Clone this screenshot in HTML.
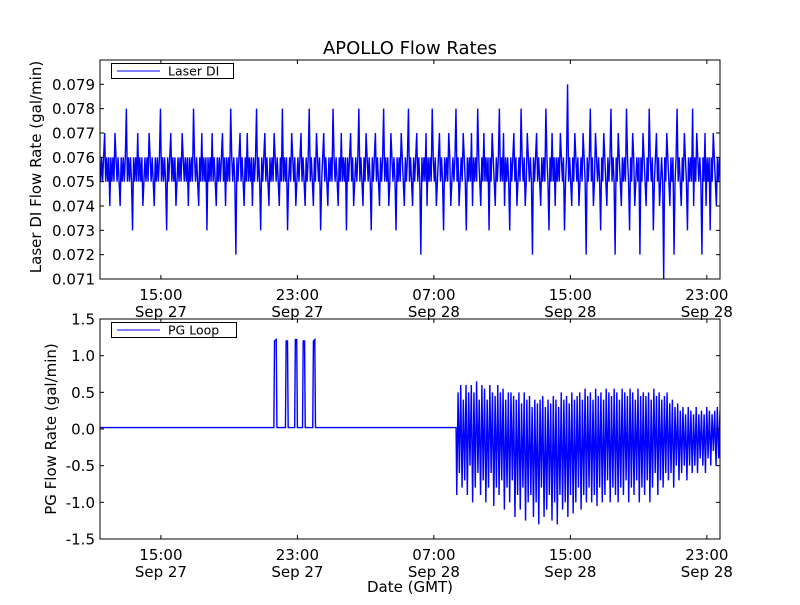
<!DOCTYPE html>
<html><head><meta charset="utf-8"><style>
body{margin:0;background:#fff}
svg text{font-family:"DejaVu Sans","Liberation Sans",sans-serif;fill:#000}
</style></head><body>
<svg id="chart" width="800" height="600" viewBox="0 0 800 600" xmlns="http://www.w3.org/2000/svg">
<rect width="800" height="600" fill="#fff"/>
<text x="410" y="54" font-size="18" text-anchor="middle">APOLLO Flow Rates</text>
<g id="top"></g>
<g id="bot"></g>
<text transform="translate(41,167) rotate(-90)" font-size="15" text-anchor="middle">Laser DI Flow Rate (gal/min)</text>
<text transform="translate(56,429) rotate(-90)" font-size="15" text-anchor="middle">PG Flow Rate (gal/min)</text>
<text x="410" y="592" font-size="15" text-anchor="middle">Date (GMT)</text>
</svg>
<script>
const xTickHours=[15,23,31,39,47];
const xTickTimes=["15:00","23:00","07:00","15:00","23:00"];
const xTickDates=["Sep 27","Sep 27","Sep 28","Sep 28","Sep 28"];
const upperYTicks=[0.071,0.072,0.073,0.074,0.075,0.076,0.077,0.078,0.079];
const lowerYTicks=[-1.5,-1.0,-0.5,0.0,0.5,1.0,1.5];
const laserMilli=[
5,6,5,6,7,5,6,5,6,4,6,5,6,5,7,6,5,6,5,4,
6,5,6,5,6,8,5,6,5,6,5,3,6,5,6,5,7,5,6,5,
6,4,5,6,5,6,5,7,6,5,6,5,4,6,5,6,5,6,8,5,
6,5,6,5,3,6,5,6,7,5,6,5,6,4,5,6,5,6,5,7,
6,5,6,5,6,4,6,5,6,5,8,6,5,6,5,4,6,5,7,5,
6,5,6,3,6,5,6,5,7,5,6,5,4,6,5,6,5,6,7,5,
6,4,6,5,6,5,8,6,5,6,5,2,6,5,6,7,5,6,5,4,
6,5,7,5,6,5,6,4,6,5,6,8,5,6,5,3,6,5,6,7,
5,6,5,4,6,5,6,5,7,6,5,6,5,4,6,5,8,5,6,5,
6,3,5,6,5,7,6,5,6,4,5,6,5,6,7,5,6,5,4,6,
5,6,8,5,6,5,4,6,5,7,6,5,6,3,5,6,7,5,6,5,
4,6,5,6,5,8,6,5,6,5,4,6,5,7,5,6,5,6,3,6,
5,6,7,5,6,4,5,6,5,6,8,5,6,5,4,6,5,7,6,5,
6,5,3,6,5,6,7,5,6,5,4,6,5,6,8,5,6,5,6,4,
5,7,6,5,6,5,3,6,5,6,5,7,6,5,4,6,5,6,8,5,
6,5,4,6,5,6,7,5,6,5,2,6,5,6,5,7,4,6,5,6,
5,8,6,5,6,4,5,6,7,5,6,5,3,6,5,6,5,7,6,4,
5,6,5,6,8,5,6,4,5,6,5,7,6,5,3,6,5,6,5,7,
4,6,5,6,5,8,6,5,4,6,5,7,5,6,5,6,3,6,5,7,
6,5,4,6,5,6,8,5,6,5,7,4,6,5,6,5,3,6,5,6,
7,5,6,4,5,6,5,8,6,5,6,4,5,7,6,5,6,5,2,6,
5,6,7,5,6,5,4,6,5,6,5,8,6,5,3,6,5,7,5,6,
4,6,5,6,5,7,6,5,6,3,5,6,9,5,6,5,4,6,5,7,
6,5,6,4,5,6,5,7,6,5,2,6,5,6,8,5,6,4,5,7,
6,5,6,5,3,6,5,7,6,5,4,6,5,6,8,5,6,5,2,6,
5,7,6,5,4,6,5,6,5,8,6,5,3,6,5,7,6,4,5,6,
5,6,2,6,5,7,6,5,4,6,5,8,6,5,6,3,5,6,7,5,
6,4,5,6,5,1,6,5,7,6,5,4,6,5,6,2,5,6,8,5,
6,5,4,6,5,7,6,5,3,6,5,6,5,8,4,6,5,7,6,5,
6,5,2,6,5,7,4,6,5,6,3,6,5,7,6,5,4,6,5,6];
const pgQuietHours=[11.43,21.62,21.66,21.76,21.80,22.30,22.34,22.42,22.46,22.84,22.88,22.96,23.00,23.30,23.34,23.42,23.46,23.90,23.94,24.02,24.06,32.30];
const pgQuietValues=[0.02,0.02,1.2,1.22,0.02,0.02,1.2,1.2,0.02,0.02,1.22,1.22,0.02,0.02,1.2,1.2,0.02,0.02,1.2,1.22,0.02,0.02];
const pgNoisyStart=32.34, pgNoisyEnd=47.77;
const pgNoisyValues=[
-0.9,0.5,-0.6,0.6,-0.8,0.4,-0.7,0.6,-0.9,0.5,-0.5,0.6,-1.0,0.5,-0.8,0.65,-0.6,0.4,-0.9,0.6,
-0.7,0.55,-1.0,0.4,-0.8,0.6,-0.6,0.5,-1.05,0.45,-0.8,0.6,-0.9,0.5,-0.7,0.55,-1.1,0.4,-0.8,0.5,
-1.0,0.5,-0.7,0.45,-1.2,0.4,-0.9,0.5,-1.1,0.35,-0.8,0.5,-1.25,0.4,-1.0,0.45,-0.9,0.3,-1.2,0.4,
-1.0,0.35,-1.3,0.4,-0.8,0.45,-1.2,0.3,-1.1,0.4,-0.9,0.35,-1.25,0.45,-1.0,0.4,-1.3,0.3,-0.9,0.5,
-1.1,0.4,-1.0,0.45,-1.2,0.35,-0.9,0.5,-1.15,0.4,-1.0,0.45,-0.8,0.5,-1.1,0.4,-0.9,0.55,-1.0,0.45,
-0.8,0.5,-1.0,0.4,-0.9,0.55,-1.05,0.45,-0.8,0.5,-1.0,0.4,-0.9,0.55,-0.7,0.5,-1.0,0.45,-0.8,0.55,
-0.9,0.5,-1.0,0.4,-0.8,0.55,-0.9,0.5,-0.7,0.45,-1.0,0.55,-0.8,0.5,-0.9,0.4,-0.7,0.55,-1.0,0.45,
-0.8,0.5,-0.9,0.45,-0.7,0.5,-1.0,0.4,-0.8,0.55,-0.6,0.45,-0.9,0.5,-0.7,0.4,-0.8,0.45,-0.6,0.5,
-0.7,0.35,-0.6,0.4,-0.8,0.3,-0.5,0.35,-0.7,0.25,-0.6,0.3,-0.5,0.2,-0.7,0.3,-0.5,0.25,-0.6,0.2,
-0.5,0.3,-0.6,0.2,-0.4,0.25,-0.5,0.2,-0.6,0.3,-0.4,0.25,-0.5,0.2,-0.3,0.25,-0.5,0.3,-0.4,0.25];

const NS="http://www.w3.org/2000/svg";
const X0=100,X1=720,H0=11.43,H1=47.77;
function xs(h){return X0+(h-H0)/(H1-H0)*(X1-X0);}
function mk(tag,attrs,parent){const e=document.createElementNS(NS,tag);for(const k in attrs)e.setAttribute(k,attrs[k]);parent.appendChild(e);return e;}

function panel(g,top,bottom,ymin,ymax,yticks,fmt,pts,legend,lw){
  const ys=v=>bottom-(v-ymin)/(ymax-ymin)*(bottom-top);
  const clipId="c"+top;
  const cp=mk("clipPath",{id:clipId},g);mk("rect",{x:X0,y:top,width:X1-X0,height:bottom-top},cp);
  const line=mk("polyline",{points:pts.map(p=>xs(p[0]).toFixed(2)+","+ys(p[1]).toFixed(2)).join(" "),fill:"none",stroke:"#0000ff","stroke-width":1.4,"clip-path":"url(#"+clipId+")"},g);
  
  
  const fr=mk("rect",{x:X0,y:top,width:X1-X0,height:bottom-top,fill:"none",stroke:"#000","stroke-width":1},g);
  
  
  yticks.forEach(v=>{const y=ys(v);
    mk("line",{x1:X0,x2:X0+4,y1:y,y2:y,stroke:"#000"},g);
    mk("line",{x1:X1,x2:X1-4,y1:y,y2:y,stroke:"#000"},g);
    const t=mk("text",{x:X0-5,y:y+5.5,"font-size":15,"text-anchor":"end"},g);t.textContent=fmt(v);
    
    
  });
  xTickHours.forEach((h,i)=>{const x=xs(h);
    mk("line",{x1:x,x2:x,y1:bottom,y2:bottom-4,stroke:"#000"},g);
    mk("line",{x1:x,x2:x,y1:top,y2:top+4,stroke:"#000"},g);
    const t=mk("text",{x:x,y:bottom+21,"font-size":15,"text-anchor":"middle"},g);t.textContent=xTickTimes[i];
    
    
    const d=mk("text",{x:x,y:bottom+38,"font-size":15,"text-anchor":"middle"},g);d.textContent=xTickDates[i];
    
    
  });
  const lg=mk("g",{},g);
  
  
  mk("rect",{x:111.5,y:top+3.5,width:lw,height:15,fill:"#fff",stroke:"#000"},lg);
  mk("line",{x1:117,x2:160,y1:top+11,y2:top+11,stroke:"#0000ff"},lg);
  const lt=mk("text",{x:168,y:top+15.5,"font-size":12.5},lg);lt.textContent=legend;
  
  
}
const upPts=laserMilli.map((m,i)=>[H0+(i+0.5)/laserMilli.length*(H1-H0),0.07+m/1000]);
panel(document.getElementById("top"),60,279,0.071,0.080,upperYTicks,v=>v.toFixed(3),upPts,"Laser DI",122);
const lowPts=pgQuietHours.map((h,i)=>[h,pgQuietValues[i]]).concat(
  pgNoisyValues.map((v,i)=>[pgNoisyStart+i/(pgNoisyValues.length-1)*(pgNoisyEnd-pgNoisyStart),v]));
panel(document.getElementById("bot"),319,539,-1.5,1.5,lowerYTicks,v=>v.toFixed(1),lowPts,"PG Loop",125);
</script>
</body></html>
